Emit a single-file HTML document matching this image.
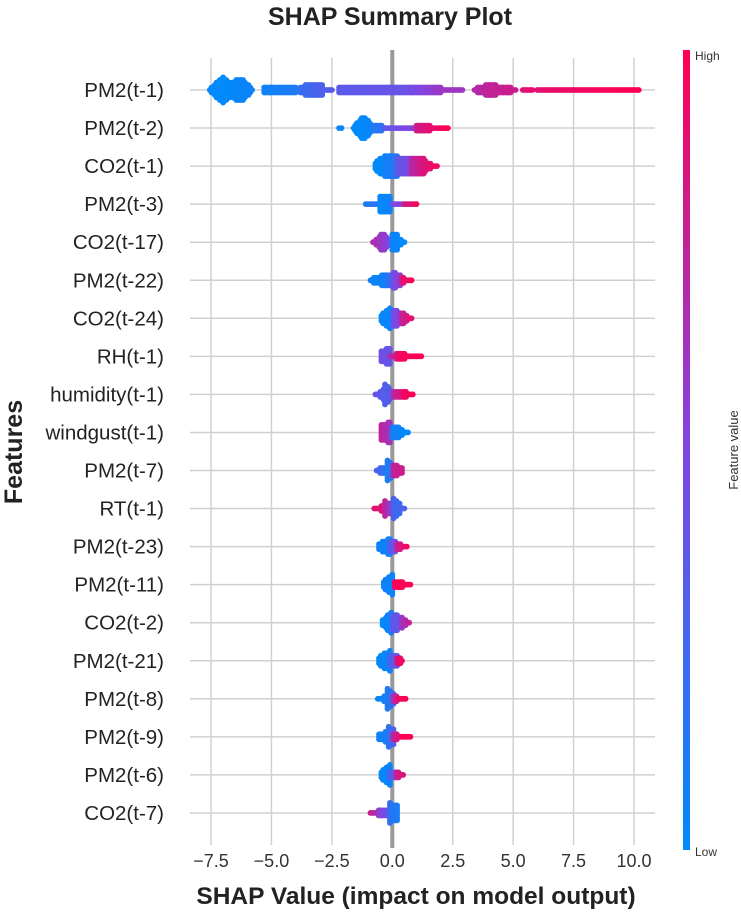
<!DOCTYPE html>
<html><head><meta charset="utf-8"><style>
html,body{margin:0;padding:0;background:#fff;}
svg{display:block;font-family:"Liberation Sans",Arial,sans-serif;}
</style></head><body>
<svg id="chart" width="741" height="920" viewBox="0 0 741 920">
<defs><linearGradient id="cb" x1="0" y1="1" x2="0" y2="0">
<stop offset="0" stop-color="rgb(0,138,251)"/><stop offset="0.5" stop-color="rgb(128,70,226)"/><stop offset="1" stop-color="rgb(255,0,82)"/>
</linearGradient></defs>
<text x="390" y="25" text-anchor="middle" font-size="25" font-weight="bold" fill="#222">SHAP Summary Plot</text>
<g id="grid"></g><g id="dots"></g><g id="labels"></g>
<text x="416" y="904" text-anchor="middle" font-size="24.5" font-weight="bold" fill="#222">SHAP Value (impact on model output)</text>
<text transform="translate(22,452) rotate(-90)" text-anchor="middle" font-size="25" font-weight="bold" fill="#222">Features</text>
<rect x="683" y="50" width="7" height="800" fill="url(#cb)"/>
<text x="695" y="60" font-size="12" fill="#333">High</text>
<text x="695" y="856" font-size="12" fill="#333">Low</text>
<text transform="translate(738,450) rotate(-90)" text-anchor="middle" font-size="13" fill="#333">Feature value</text>
</svg>
<script>
const features=["PM2(t-1)","PM2(t-2)","CO2(t-1)","PM2(t-3)","CO2(t-17)","PM2(t-22)","CO2(t-24)","RH(t-1)","humidity(t-1)","windgust(t-1)","PM2(t-7)","RT(t-1)","PM2(t-23)","PM2(t-11)","CO2(t-2)","PM2(t-21)","PM2(t-8)","PM2(t-9)","PM2(t-6)","CO2(t-7)"];
const xTicks=[-7.5,-5,-2.5,0,2.5,5,7.5,10];
const xTickLabels=["\u22127.5","\u22125.0","\u22122.5","0.0","2.5","5.0","7.5","10.0"];
// segments per feature: [shap0, shap1, halfHeight0, halfHeight1, featureValue0, featureValue1]
const seg0=[[-7.55,-7.0,3,11,0,0],[-7.0,-6.6,11,6,0,0.02],[-6.6,-6.25,8,10,0.02,0.03],[-6.25,-5.8,10,3,0.03,0.05],[-5.3,-4.0,4,4,0.05,0.12],[-3.8,-2.9,5,6,0.2,0.3],[-2.9,-2.5,3,2,0.3,0.35],[-2.2,0.8,4,4,0.35,0.42],[0.8,2.0,4,4,0.45,0.6],[2.0,2.9,3,3,0.6,0.62],[3.4,4.0,3,6,0.68,0.75],[4.0,5.1,6,3,0.75,0.8],[5.4,5.8,2,2,0.88,0.9],[6.0,10.2,3,3,0.9,1]];
const seg1=[[-2.2,-2.1,2,2,0.05,0.05],[-1.6,-1.2,3,10,0,0],[-1.2,-0.8,10,4,0,0.05],[-0.8,-0.3,5,3,0.1,0.2],[-0.3,1.0,3,3,0.35,0.55],[1.0,2.3,4,3,0.8,1]];
const seg2=[[-0.7,-0.3,5,9,0,0.02],[-0.3,0.2,9,9,0.05,0.15],[0.2,0.8,8,7,0.35,0.5],[0.8,1.3,8,7,0.7,0.85],[1.3,1.85,6,2,0.85,0.95]];
const seg3=[[-1.1,-0.5,2,2,0.1,0.2],[-0.5,-0.1,8,8,0,0.05],[0,0.5,3,3,0.4,0.6],[0.5,1.0,3,2,0.8,0.95]];
const seg4=[[-0.8,-0.4,2,8,0.7,0.6],[-0.4,-0.1,8,4,0.6,0.5],[0,0.2,8,8,0.05,0.05],[0.2,0.5,6,2,0.02,0]];
const seg5=[[-0.9,-0.3,3,6,0.05,0.05],[-0.3,-0.05,6,5,0.1,0.2],[0.05,0.4,8,5,0.45,0.6],[0.4,0.8,4,2,0.85,1]];
const seg6=[[-0.45,-0.1,5,9,0,0.05],[0.05,0.4,8,6,0.4,0.6],[0.4,0.8,6,2,0.75,0.9]];
const seg7=[[-0.45,-0.1,6,8,0.45,0.4],[-0.1,0.3,3,4,0.7,0.85],[0.3,1.2,4,2,0.95,1]];
const seg8=[[-0.7,-0.3,2,6,0.4,0.35],[-0.3,-0.05,9,5,0.3,0.35],[0.05,0.5,4,4,0.7,0.9],[0.5,0.85,4,2,0.95,1]];
const seg9=[[-0.45,-0.1,7,9,0.75,0.65],[0.0,0.4,6,5,0.1,0.05],[0.4,0.65,4,2,0.02,0]];
const seg10=[[-0.65,-0.2,3,5,0.3,0.15],[-0.2,0.0,9,6,0.1,0.2],[0.05,0.4,6,4,0.75,0.8]];
const seg11=[[-0.75,-0.3,2,5,0.9,0.85],[-0.3,0,7,5,0.75,0.55],[0.05,0.3,9,6,0.3,0.2],[0.3,0.5,4,2,0.25,0.3]];
const seg12=[[-0.55,-0.1,4,8,0.05,0.05],[-0.1,0.2,6,5,0.3,0.5],[0.2,0.6,5,2,0.75,0.95]];
const seg13=[[-0.35,0,5,9,0.05,0.05],[0.1,0.35,4,4,0.95,1],[0.35,0.75,4,2,1,1]];
const seg14=[[-0.4,-0.05,4,9,0,0.05],[0,0.4,8,6,0.3,0.45],[0.4,0.7,6,2,0.6,0.75]];
const seg15=[[-0.55,-0.1,5,9,0,0.05],[-0.1,0.2,6,6,0.25,0.4],[0.2,0.4,5,3,0.85,0.95]];
const seg16=[[-0.6,-0.2,2,5,0.05,0.05],[-0.2,0.05,9,6,0.1,0.25],[0.05,0.3,5,3,0.65,0.9],[0.3,0.55,3,2,0.95,1]];
const seg17=[[-0.55,-0.15,4,6,0.05,0.1],[-0.15,0.05,9,7,0.15,0.3],[0.05,0.4,4,3,0.75,0.9],[0.4,0.75,3,2,1,1]];
const seg18=[[-0.45,-0.1,5,9,0,0.05],[-0.1,0.2,5,4,0.3,0.45],[0.2,0.45,5,2,0.8,0.85]];
const seg19=[[-0.9,-0.5,2,4,0.8,0.6],[-0.5,-0.1,4,5,0.55,0.4],[-0.1,0.2,9,7,0.2,0.1]];
const segments=[seg0,seg1,seg2,seg3,seg4,seg5,seg6,seg7,seg8,seg9,seg10,seg11,seg12,seg13,seg14,seg15,seg16,seg17,seg18,seg19];

const NS="http://www.w3.org/2000/svg";
const X0=392.3, PXU=24.17, Y0=90, ROWH=38.05;
function xs(v){return X0+v*PXU;}
function ys(i){return Y0+i*ROWH;}
function col(t){const a=[0,138,251],m=[128,70,226],b=[255,0,82];let p,q,u;if(t<0.5){p=a;q=m;u=t/0.5;}else{p=m;q=b;u=(t-0.5)/0.5;}return "rgb("+p.map((c,k)=>Math.round(c+(q[k]-c)*u)).join(",")+")";}
function mk(tag,attrs,parent){const e=document.createElementNS(NS,tag);for(const k in attrs)e.setAttribute(k,attrs[k]);parent.appendChild(e);return e;}
const grid=document.getElementById('grid'),dots=document.getElementById('dots'),labels=document.getElementById('labels');
features.forEach((f,i)=>{
  const l=mk('line',{x1:190,x2:655,y1:ys(i),y2:ys(i),stroke:'#d0d0d0','stroke-width':1.5},grid);
  
  
  const t=mk('text',{x:164,y:ys(i)+7,'text-anchor':'end','font-size':20.5,fill:'#222'},labels);
  t.textContent=f;
  
  
});
xTicks.forEach((v,i)=>{
  const l=mk('line',{x1:xs(v),x2:xs(v),y1:58,y2:845,stroke:'#d0d0d0','stroke-width':1.5},grid);
  
  
  const t=mk('text',{x:xs(v),y:867,'text-anchor':'middle','font-size':18,fill:'#333'},labels);
  t.textContent=xTickLabels[i];
  
  
});
const zl=mk('line',{x1:xs(0),x2:xs(0),y1:50,y2:848,stroke:'#999','stroke-width':4},grid);


segments.forEach((segs,i)=>{
  const g=mk('g',{},dots);
  
  
  segs.forEach(s=>{
    const [a,b,h0,h1,f0,f1]=s;
    const n=Math.max(1,Math.round((b-a)/0.07));
    for(let k=0;k<=n;k++){
      const u=k/n,v=a+(b-a)*u,h=h0+(h1-h0)*u,fv=f0+(f1-f0)*u;
      const span=h*1.5;
      const m=Math.max(0,Math.floor(Math.max(0,span-2.8)/2.5));
      for(let j=-m;j<=m;j++){
        const c=mk('circle',{cx:xs(v).toFixed(1),cy:(ys(i)+j*2.5).toFixed(1),r:2.9,fill:col(fv)},g);
        
        
      }
    }
  });
});
</script>
</body></html>
